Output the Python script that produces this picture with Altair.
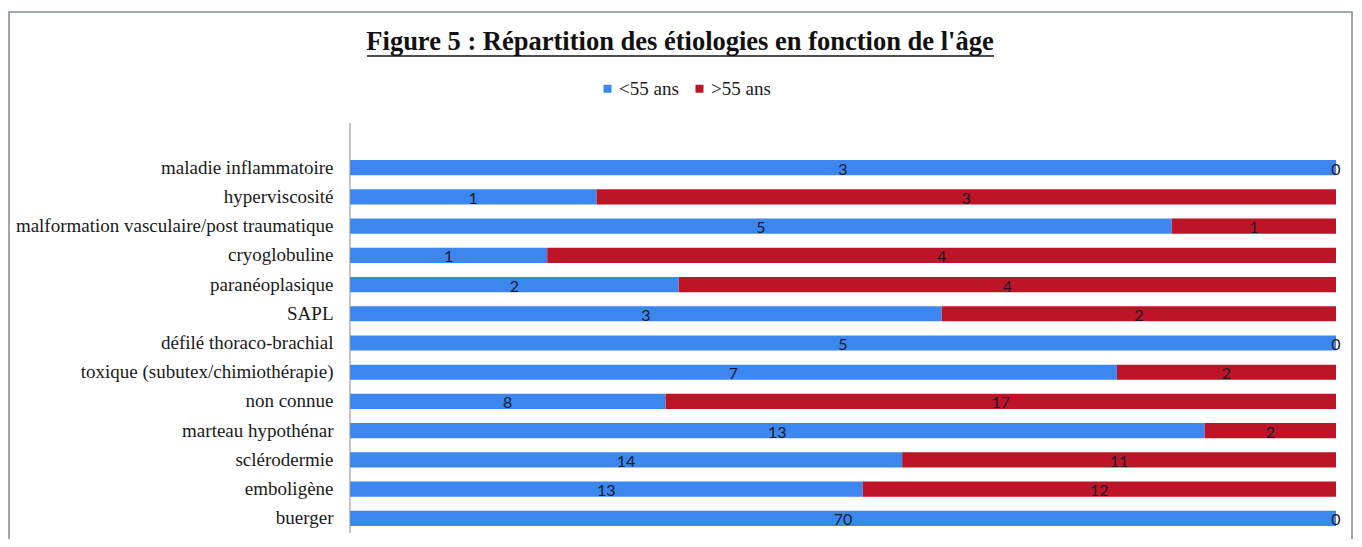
import altair as alt
import pandas as pd

categories = [
    "maladie inflammatoire",
    "hyperviscosité",
    "malformation vasculaire/post traumatique",
    "cryoglobuline",
    "paranéoplasique",
    "SAPL",
    "défilé thoraco-brachial",
    "toxique (subutex/chimiothérapie)",
    "non connue",
    "marteau hypothénar",
    "sclérodermie",
    "emboligène",
    "buerger",
]
under55 = [3, 1, 5, 1, 2, 3, 5, 7, 8, 13, 14, 13, 70]
over55 = [0, 3, 1, 4, 4, 2, 0, 2, 17, 2, 11, 12, 0]
groups = ["<55 ans", ">55 ans"]
colors = ["#3c87ef", "#bd1427"]
title_text = "Figure 5 : Répartition des étiologies en fonction de l'âge"

rows = []
for c, a, b in zip(categories, under55, over55):
    rows.append({"cat": c, "group": groups[0], "value": a, "order": 0})
    rows.append({"cat": c, "group": groups[1], "value": b, "order": 1})
df = pd.DataFrame(rows)

W, H = 986, 410
serif = "Liberation Serif"

base = alt.Chart(df).transform_stack(
    stack="value", groupby=["cat"], as_=["x0", "x1"], offset="normalize",
    sort=[alt.SortField("order", order="ascending")]
).transform_calculate(mid="(datum.x0 + datum.x1) / 2")

yscale = alt.Scale(domain=categories, range=[30, 410], paddingInner=0.48, paddingOuter=0.24)
xscale = alt.Scale(domain=[0, 1], nice=False, zero=True)

bars = base.mark_bar().encode(
    y=alt.Y("cat:N", scale=yscale, sort=categories,
            axis=alt.Axis(title=None, domain=False, ticks=False, labelPadding=17,
                          labelFont=serif, labelFontSize=19, labelColor="#1a1a1a",
                          labelLimit=400)),
    x=alt.X("x0:Q", scale=xscale, axis=None),
    x2="x1:Q",
    color=alt.Color("group:N", scale=alt.Scale(domain=groups, range=colors),
                    legend=alt.Legend(orient="none", legendX=248, legendY=-44,
                                      direction="horizontal", title=None,
                                      symbolType="square", symbolSize=64,
                                      symbolStrokeWidth=0, labelFont=serif,
                                      labelFontSize=19, labelColor="#1a1a1a",
                                      columnPadding=11, labelOffset=2, padding=0)),
)

labels = base.mark_text(font="Lato", fontSize=16, color="#1a1a2a",
                        baseline="middle", dy=2).encode(
    y=alt.Y("cat:N", scale=yscale, sort=categories),
    x=alt.X("mid:Q", scale=xscale),
    text="value:Q",
)

deco = pd.DataFrame({"t": [title_text]})
axis_line = alt.Chart(deco).mark_rule(color="#8a8a8a", strokeWidth=1).encode(
    x=alt.value(0), y=alt.value(0), y2=alt.value(H))
title = alt.Chart(deco).mark_text(font=serif, fontSize=26.5, fontWeight="bold",
                                  color="#111111", align="center",
                                  baseline="alphabetic").encode(
    x=alt.value(330), y=alt.value(-73), text="t:N")
underline = alt.Chart(deco).mark_rule(color="#111111", strokeWidth=1.5).encode(
    x=alt.value(17), x2=alt.value(644), y=alt.value(-67))
frame = alt.Chart(deco).mark_rect(fill="transparent", stroke="#7d8a8a",
                                  strokeWidth=1.5).encode(
    x=alt.value(-341), x2=alt.value(1002), y=alt.value(-111), y2=alt.value(440))

chart = alt.layer(frame, bars, labels, axis_line, title, underline).properties(
    width=W, height=H,
    autosize=alt.AutoSizeParams(type="none"),
    padding={"left": 342, "top": 115, "right": 18, "bottom": 6},
).configure_view(strokeWidth=0)

chart.save("out.html", embed_options={"renderer": "svg", "actions": False})
